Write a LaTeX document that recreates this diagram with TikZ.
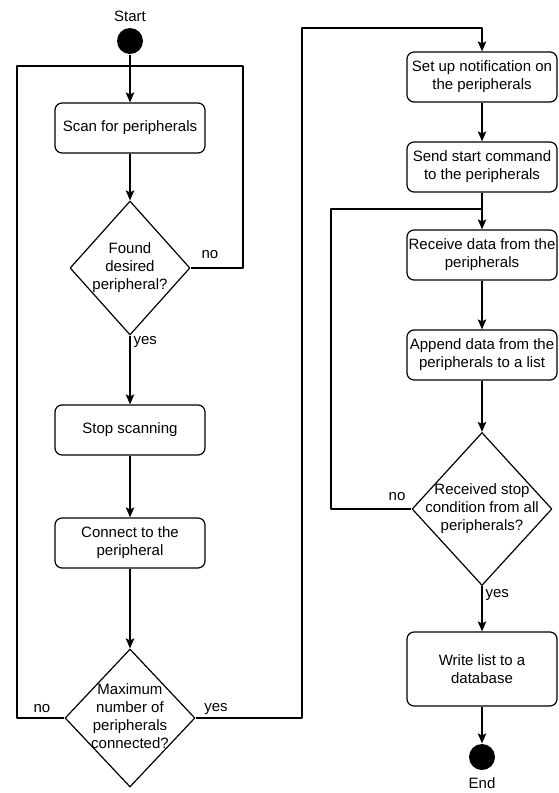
\documentclass[tikz,border=0pt]{standalone}
\usepackage{fontspec}
\setmainfont{Liberation Sans}
\usetikzlibrary{shapes.geometric,arrows.meta}
\tikzset{
  box/.style={draw, rounded corners=7pt, minimum width=150pt, minimum height=50pt, align=center, inner sep=1pt},
  decision/.style={draw, diamond, inner sep=0pt},
  dot/.style={circle, fill=black, minimum size=26pt, inner sep=0pt},
}
\newcommand{\dtext}[1]{\smash{\makebox[0pt]{\raisebox{-.25em}{\begin{tabular}{@{}c@{}}#1\end{tabular}}}}}
\begin{document}
\begin{tikzpicture}[x=1pt, y=-1pt, font=\fontsize{15}{18}\selectfont, line width=1.2pt, line join=round, >={Stealth[length=10pt,width=8.5pt,inset=2pt]}]
\useasboundingbox (0,0) rectangle (558,793);
% left column
\node (startlbl) at (130,16) {Start};
\node[dot] (start) at (130,41) {};
\node[box] (scan) at (130,128) {Scan for peripherals};
\node[decision, minimum width=120pt, minimum height=134pt] (found) at (130,268) {\dtext{Found\\desired\\peripheral?}};
\node[box] (stop) at (130,430) {Stop scanning};
\node[box] (connect) at (130,543) {Connect to the\\peripheral};
\node[decision, minimum width=130pt, minimum height=138pt] (maxnum) at (130,718) {\dtext{Maximum\\number of\\peripherals\\connected?}};
% right column
\node[box] (setup) at (482,77) {Set up notification on\\the peripherals};
\node[box] (send) at (482,167) {Send start command\\to the peripherals};
\node[box] (receive) at (482,255) {Receive data from the\\peripherals};
\node[box] (append) at (482,355) {Append data from the\\peripherals to a list};
\node[decision, minimum width=140pt, minimum height=153pt] (stopcond) at (482,509) {\dtext{Received stop\\condition from all\\peripherals?}};
\node[box, minimum height=74pt] (write) at (482,669) {Write list to a\\database};
\node[dot] (end) at (482,757) {};
\node (endlbl) at (482,783) {End};
% bends
\coordinate (join) at (130,66);
\coordinate (topL) at (17,66);
\coordinate (topR) at (243,66);
\coordinate (colR) at (302,28);
\coordinate (loopL) at (331,209);
\coordinate (join2) at (482,209);
% connectors
\draw[->] (start) -- (scan);
\draw[->] (scan) -- (found);
\draw (found.east) -| (topR) -- (join);
\draw[->] (found) -- (stop);
\draw[->] (stop) -- (connect);
\draw[->] (connect) -- (maxnum);
\draw (maxnum.west) -| (topL) -- (join);
\draw[->] (maxnum.east) -| (colR) -| (setup.north);
\draw[->] (setup) -- (send);
\draw[->] (send) -- (receive);
\draw[->] (receive) -- (append);
\draw[->] (append) -- (stopcond);
\draw (stopcond.west) -| (loopL) -- (join2);
\draw[->] (stopcond) -- (write);
\draw[->] (write) -- (end);
% labels
\node (no1) at (210,255) {no};
\node[anchor=west, inner sep=1pt] (yes1) at (132,342) {yes};
\node (no2) at (42,709) {no};
\node (yes2) at (216,709) {yes};
\node (no3) at (397,497) {no};
\node[anchor=west, inner sep=1pt] (yes3) at (484,595) {yes};
\end{tikzpicture}
\end{document}
